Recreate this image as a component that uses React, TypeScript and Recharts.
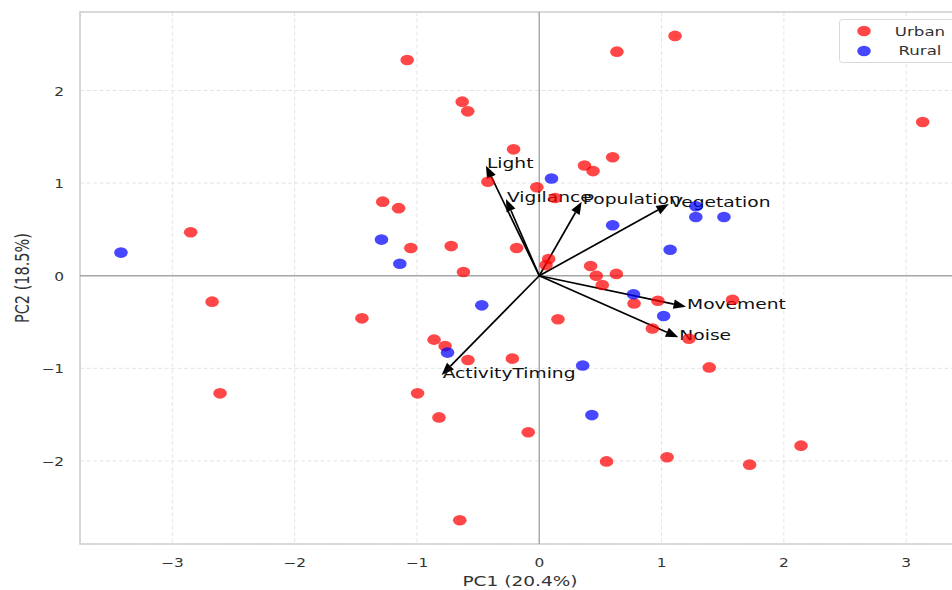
import React from 'react';
import {
  ScatterChart,
  Scatter,
  XAxis,
  YAxis,
  CartesianGrid,
  ReferenceLine,
  ReferenceArea,
  Legend,
} from 'recharts';

const xTicks = [-3, -2, -1, 0, 1, 2, 3];
const yTicks = [-2, -1, 0, 1, 2];
const xDomain = [-3.755, 3.44];
const yDomain = [-2.897, 2.848];

const urbanPC1 = [
  -1.08, -0.63, -0.585, -1.28, -1.15, -2.85, -1.05, -0.72, -0.62, 1.11, 0.635, 3.135,
  -0.21, 0.6, 0.37, 0.44, -0.42, -0.02, 0.13, -0.185, 0.077, 0.055, 0.42, 0.63,
  0.466, 0.515, 0.775, 0.97, 0.925, 0.153, -0.86, -0.77, -0.583, -0.22, -0.995, -0.82,
  -0.09, 0.55, 1.045, -0.65, 1.58, 1.224, 1.39, 1.72, 2.14, -2.675, -1.45, -2.61,
];
const urbanPC2 = [
  2.33, 1.88, 1.775, 0.8, 0.73, 0.47, 0.3, 0.32, 0.04, 2.59, 2.42, 1.66,
  1.365, 1.28, 1.19, 1.13, 1.015, 0.955, 0.84, 0.3, 0.18, 0.115, 0.105, 0.02,
  0.0, -0.1, -0.3, -0.27, -0.57, -0.47, -0.69, -0.76, -0.91, -0.895, -1.27, -1.53,
  -1.69, -2.005, -1.96, -2.64, -0.26, -0.68, -0.99, -2.04, -1.835, -0.28, -0.46, -1.27,
];
const ruralPC1 = [-3.42, -1.29, -1.14, 0.1, 0.6, 1.28, 1.28, 1.51, 1.07, 0.77, 1.017, -0.47, -0.75, 0.355, 0.43];
const ruralPC2 = [0.25, 0.39, 0.13, 1.05, 0.545, 0.75, 0.635, 0.635, 0.28, -0.2, -0.435, -0.32, -0.83, -0.97, -1.505];

const loadingNames = ['Light', 'Vigilance', 'Population', 'Vegetation', 'Movement', 'Noise', 'ActivityTiming'];
const loadingPC1 = [-0.436, -0.272, 0.347, 1.06, 1.2, 1.137, -0.798];
const loadingPC2 = [1.188, 0.828, 0.8, 0.774, -0.335, -0.665, -1.072];

const seriesNames = ['Urban', 'Rural'];
const xLabel = 'PC1 (20.4%)';
const yLabel = 'PC2 (18.5%)';

const urbanData = urbanPC1.map((x, i) => ({ x, y: urbanPC2[i] }));
const ruralData = ruralPC1.map((x, i) => ({ x, y: ruralPC2[i] }));

const FONT = '"DejaVu Sans", Verdana, sans-serif';
const S = 1.28;
const RED = '#ff0000';
const BLUE = '#0000ff';
const ALPHA = 0.72;

const fmt = (v: number) => (v < 0 ? '\u2212' + Math.abs(v) : String(v));

const makeDot = (color: string) => (props: any) => {
  const { cx, cy } = props;
  if (cx == null || cy == null) return <g />;
  return <ellipse cx={cx} cy={cy} rx={6.8} ry={5.3} fill={color} fillOpacity={ALPHA} />;
};

const XTick = (props: any) => {
  const { x, y, payload } = props;
  return (
    <g transform={`translate(${x},${y + 23}) scale(${S},1)`}>
      <text x={0} y={0} textAnchor="middle" fontSize={12} fill="#333" fontFamily={FONT}>
        {fmt(payload.value)}
      </text>
    </g>
  );
};

const YTick = (props: any) => {
  const { x, y, payload } = props;
  return (
    <g transform={`translate(${x - 16},${y + 5}) scale(${S},1)`}>
      <text x={0} y={0} textAnchor="end" fontSize={12} fill="#333" fontFamily={FONT}>
        {fmt(payload.value)}
      </text>
    </g>
  );
};

const makeArrow = (name: string) => (p: any) => {
  const { x1, y1, x2, y2 } = p;
  if ([x1, y1, x2, y2].some((v) => v == null || isNaN(v))) return <g />;
  const dx = x2 - x1;
  const dy = y2 - y1;
  const len = Math.hypot(dx, dy) || 1;
  const ux = dx / len;
  const uy = dy / len;
  const L = 12.5;
  const W = 4.8;
  const bx = x2 - ux * L;
  const by = y2 - uy * L;
  const pts = `${x2},${y2} ${bx - uy * W},${by + ux * W} ${bx + uy * W},${by - ux * W}`;
  return (
    <g>
      <line x1={x1} y1={y1} x2={bx} y2={by} stroke="#000" strokeWidth={1.7} />
      <polygon points={pts} fill="#000" />
      <g transform={`translate(${x2 + 1},${y2 + 2.5}) scale(${S},1)`}>
        <text x={0} y={0} fontSize={14.6} fill="#111" fontFamily={FONT}>
          {name}
        </text>
      </g>
    </g>
  );
};

const renderLegend = () => (
  <svg width={130} height={46} style={{ display: 'block', overflow: 'visible' }}>
    <rect x={0.5} y={0.5} width={128} height={43} rx={3} fill="#fff" fillOpacity={0.85} stroke="#d9d9d9" />
    <ellipse cx={25} cy={12} rx={6.8} ry={5.3} fill={RED} fillOpacity={ALPHA} />
    <ellipse cx={25} cy={32} rx={6.8} ry={5.3} fill={BLUE} fillOpacity={ALPHA} />
    <g transform={`translate(81,16.5) scale(${S},1)`}>
      <text x={0} y={0} textAnchor="middle" fontSize={13} fill="#333" fontFamily={FONT}>
        {seriesNames[0]}
      </text>
    </g>
    <g transform={`translate(81,35.5) scale(${S},1)`}>
      <text x={0} y={0} textAnchor="middle" fontSize={13} fill="#333" fontFamily={FONT}>
        {seriesNames[1]}
      </text>
    </g>
  </svg>
);

const XLabelContent = (props: any) => {
  const vb = props.viewBox || { x: 80, y: 544, width: 880, height: 46 };
  const cx = vb.x + vb.width / 2;
  return (
    <g transform={`translate(${cx},${vb.y + 42}) scale(${S},1)`}>
      <text x={0} y={0} textAnchor="middle" fontSize={14.5} fill="#333" fontFamily={FONT}>
        {xLabel}
      </text>
    </g>
  );
};

const YLabelContent = (props: any) => {
  const vb = props.viewBox || { x: 0, y: 12, width: 80, height: 532 };
  const cy = vb.y + vb.height / 2;
  return (
    <g transform={`translate(29,${cy}) scale(${S},1) rotate(-90)`}>
      <text x={0} y={0} textAnchor="middle" fontSize={14.5} fill="#333" fontFamily={FONT}>
        {yLabel}
      </text>
    </g>
  );
};

export default function App() {
  return (
    <div
      style={{
        position: 'absolute',
        left: 0,
        top: 0,
        width: 952,
        height: 590,
        overflow: 'hidden',
        background: '#fff',
      }}
    >
      <ScatterChart width={962} height={590} margin={{ top: 12, right: 2, bottom: 0, left: 0 }}>
        <CartesianGrid stroke="#e4e4e4" strokeDasharray="4 2.5" strokeWidth={1} />
        <XAxis
          type="number"
          dataKey="x"
          domain={xDomain}
          allowDataOverflow
          ticks={xTicks}
          tick={<XTick />}
          tickLine={false}
          axisLine={false}
          tickSize={0}
          tickMargin={0}
          height={46}
          label={{ content: <XLabelContent /> }}
        />
        <YAxis
          type="number"
          dataKey="y"
          domain={yDomain}
          allowDataOverflow
          ticks={yTicks}
          tick={<YTick />}
          tickLine={false}
          axisLine={false}
          tickSize={0}
          tickMargin={0}
          width={80}
          label={{ content: <YLabelContent /> }}
        />
        <ReferenceArea
          x1={xDomain[0]}
          x2={xDomain[1]}
          y1={yDomain[0]}
          y2={yDomain[1]}
          fill="none"
          fillOpacity={0}
          stroke="#cfcfcf"
          strokeWidth={1.6}
          ifOverflow="visible"
        />
        <ReferenceLine x={0} stroke="#a6a6a6" strokeWidth={1.4} />
        <ReferenceLine y={0} stroke="#a6a6a6" strokeWidth={1.4} />
        <Scatter name={seriesNames[0]} data={urbanData} shape={makeDot(RED)} isAnimationActive={false} />
        <Scatter name={seriesNames[1]} data={ruralData} shape={makeDot(BLUE)} isAnimationActive={false} />
        {loadingNames.map((name, i) => (
          <ReferenceLine
            key={name}
            segment={[
              { x: 0, y: 0 },
              { x: loadingPC1[i], y: loadingPC2[i] },
            ]}
            ifOverflow="visible"
            shape={makeArrow(name)}
          />
        ))}
        <Legend
          layout="horizontal"
          verticalAlign="middle"
          align="center"
          content={renderLegend}
          wrapperStyle={{ position: 'absolute', left: 839, top: 19, width: 130, height: 46, margin: 0, padding: 0 }}
        />
      </ScatterChart>
    </div>
  );
}
